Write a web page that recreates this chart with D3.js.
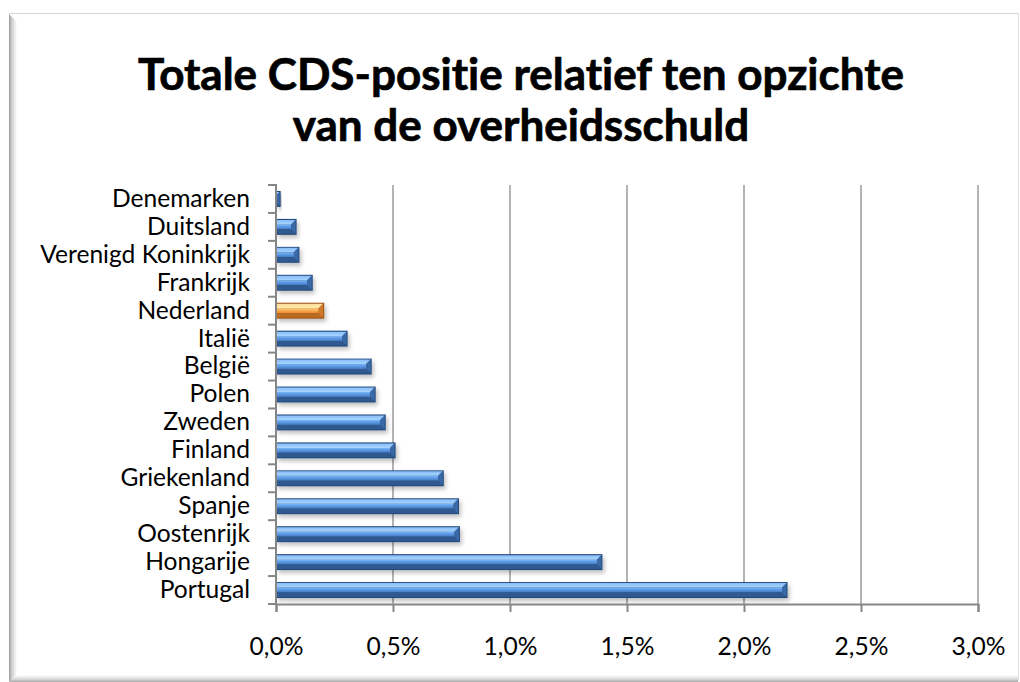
<!DOCTYPE html>
<html>
<head>
<meta charset="utf-8">
<script src="https://cdn.jsdelivr.net/npm/d3@7"></script>
<style>
  html, body { margin: 0; padding: 0; background: #ffffff; }
  svg { display: block; }
  text { font-variant-ligatures: none; font-feature-settings: "liga" 0, "clig" 0; }
</style>
</head>
<body>
<svg id="chart" width="1020" height="682"></svg>
<script>
// ---- data ----
const titleLines = ["Totale CDS-positie relatief ten opzichte", "van de overheidsschuld"];
const categories = ["Denemarken", "Duitsland", "Verenigd Koninkrijk", "Frankrijk", "Nederland",
  "Italië", "België", "Polen", "Zweden", "Finland", "Griekenland", "Spanje", "Oostenrijk",
  "Hongarije", "Portugal"];
const values = [0.0002, 0.00088, 0.0010, 0.00157, 0.00206, 0.00306, 0.00409, 0.00426, 0.00469,
  0.00511, 0.00717, 0.00782, 0.00786, 0.01395, 0.02186];
const highlight = ["Nederland"];
const xTicks = [0, 0.005, 0.01, 0.015, 0.02, 0.025, 0.03];

const svg = d3.select("#chart");
const defs = svg.append("defs");
const font = "Lato, 'Open Sans', sans-serif";

// ---- frame ----
const lg = defs.append("linearGradient").attr("id", "leftBevel").attr("x1", 0).attr("x2", 1);
lg.append("stop").attr("offset", 0).attr("stop-color", "#9a9a9a");
lg.append("stop").attr("offset", 0.35).attr("stop-color", "#cfcfcf");
lg.append("stop").attr("offset", 1).attr("stop-color", "#ffffff");
const bg = defs.append("linearGradient").attr("id", "botBevel").attr("x1", 0).attr("x2", 0).attr("y1", 1).attr("y2", 0);
bg.append("stop").attr("offset", 0).attr("stop-color", "#a8a8a8");
bg.append("stop").attr("offset", 0.4).attr("stop-color", "#d8d8d8");
bg.append("stop").attr("offset", 1).attr("stop-color", "#ffffff");

svg.append("rect").attr("x", 9).attr("y", 13).attr("width", 1009).attr("height", 668).attr("fill", "#fff");
svg.append("line").attr("x1", 9).attr("x2", 1018).attr("y1", 13.5).attr("y2", 13.5).attr("stroke", "#d6d6d6");
svg.append("line").attr("x1", 1018.5).attr("x2", 1018.5).attr("y1", 13).attr("y2", 681).attr("stroke", "#e2e2e2");
svg.append("path").attr("d", "M9,14 L17,22 L17,675 L9,682 Z").attr("fill", "url(#leftBevel)");
svg.append("path").attr("d", "M9,682 L17,675 L1018,675 L1018,682 Z").attr("fill", "url(#botBevel)");

// ---- scales ----
const x = d3.scaleLinear().domain([0, 0.03]).range([276, 978]);
const y = d3.scaleBand().domain(categories).range([185, 604]).paddingInner(0.43).paddingOuter(0.215);

// ---- title ----
const title = svg.append("g").attr("font-family", font).attr("font-weight", "bold").attr("fill", "#000")
  .attr("stroke", "#000").attr("stroke-width", 0.7);
const t1 = title.append("text").attr("x", 521).attr("y", 90).attr("text-anchor", "middle")
  .attr("font-size", 40).text(titleLines[0]);
const w1 = t1.node().getComputedTextLength();
const tSize = 40 * 766 / w1;
t1.attr("font-size", tSize);
title.append("text").attr("x", 521).attr("y", 141).attr("text-anchor", "middle")
  .attr("font-size", tSize).text(titleLines[1]);

// ---- gridlines ----
svg.append("g").selectAll("line").data(xTicks.slice(1)).join("line")
  .attr("x1", d => x(d)).attr("x2", d => x(d)).attr("y1", 185).attr("y2", 604)
  .attr("stroke", "#9a9a9a").attr("stroke-width", 1.5);

// ---- bars ----
function grad(id, stops) {
  const g = defs.append("linearGradient").attr("id", id).attr("x1", 0).attr("x2", 0).attr("y1", 0).attr("y2", 1);
  stops.forEach(s => g.append("stop").attr("offset", s[0]).attr("stop-color", s[1]));
}
grad("faceBlue", [[0, "#7cb7fa"], [0.45, "#5c99e4"], [1, "#4678c0"]]);
grad("topBlue", [[0, "#86bdf9"], [1, "#a9d5ff"]]);
grad("faceOr", [[0, "#ffcf7a"], [0.45, "#f9ac55"], [1, "#e88d35"]]);
grad("topOr", [[0, "#ffdc95"], [1, "#ffecae"]]);
const pal = {
  blue: { outline: "#24497c", top: "url(#topBlue)", face: "url(#faceBlue)", bottom: "#30598f", right: "#3a69a8" },
  orange: { outline: "#9a5212", top: "url(#topOr)", face: "url(#faceOr)", bottom: "#bb6a22", right: "#cf7a2c" }
};

const shadow = defs.append("filter").attr("id", "shadow").attr("x", "-10%").attr("y", "-50%").attr("width", "130%").attr("height", "250%");
shadow.append("feDropShadow").attr("dx", 2).attr("dy", 3).attr("stdDeviation", 2)
  .attr("flood-color", "#000").attr("flood-opacity", 0.25);

svg.append("g").selectAll("g").data(categories).join("g")
  .each(function (c, i) {
    const g = d3.select(this);
    const p = highlight.includes(c) ? pal.orange : pal.blue;
    const x0 = x(0), x1 = x(values[i]);
    const y0 = y(c), y1 = y(c) + y.bandwidth();
    const b = Math.min(4.5, (x1 - x0) / 2);
    g.append("rect").attr("x", x0).attr("y", y0).attr("width", x1 - x0).attr("height", y1 - y0)
      .attr("fill", p.outline).attr("filter", "url(#shadow)");
    const i0 = x0, i1 = x1 - 1, j0 = y0 + 1, j1 = y1 - 1;
    g.append("rect").attr("x", i0).attr("y", j0 + b).attr("width", Math.max(0, i1 - b - i0)).attr("height", j1 - j0 - 2 * b)
      .attr("fill", p.face);
    g.append("path").attr("d", `M${i0},${j0} L${i1},${j0} L${i1 - b},${j0 + b} L${i0},${j0 + b} Z`).attr("fill", p.top);
    g.append("path").attr("d", `M${i0},${j1} L${i1},${j1} L${i1 - b},${j1 - b} L${i0},${j1 - b} Z`).attr("fill", p.bottom);
    g.append("path").attr("d", `M${i1},${j0} L${i1},${j1} L${i1 - b},${j1 - b} L${i1 - b},${j0 + b} Z`).attr("fill", p.right);
  });

// ---- axes ----
const axisColor = "#868686";
svg.append("line").attr("x1", 276).attr("x2", 276).attr("y1", 184).attr("y2", 605)
  .attr("stroke", axisColor).attr("stroke-width", 2);
const bounds = categories.map(c => y(c) - y.step() * y.paddingInner() / 2).concat([604]);
svg.append("g").selectAll("line").data(bounds).join("line")
  .attr("x1", 268).attr("x2", 276).attr("y1", d => d).attr("y2", d => d)
  .attr("stroke", axisColor).attr("stroke-width", 2);

const xAxis = d3.axisBottom(x).tickValues(xTicks).tickSize(8).tickPadding(26)
  .tickFormat(d => d3.format(".1%")(d).replace(".", ","));
const xg = svg.append("g").attr("transform", "translate(0,604)").call(xAxis);
xg.select(".domain").attr("stroke", axisColor).attr("stroke-width", 2);
xg.selectAll(".tick line").attr("stroke", axisColor).attr("stroke-width", 2);

const probe = svg.append("text").attr("font-family", font).attr("font-size", 20).text("Verenigd Koninkrijk");
const lSize = 20 * 210 / probe.node().getComputedTextLength();
probe.remove();

xg.selectAll(".tick text").attr("font-family", font).attr("font-size", lSize).attr("fill", "#000");

const yAxis = d3.axisLeft(y).tickSize(0).tickPadding(26);
const yg = svg.append("g").attr("transform", "translate(276,0)").call(yAxis);
yg.select(".domain").remove();
yg.selectAll(".tick text").attr("font-family", font).attr("font-size", lSize).attr("fill", "#000");
</script>
</body>
</html>
